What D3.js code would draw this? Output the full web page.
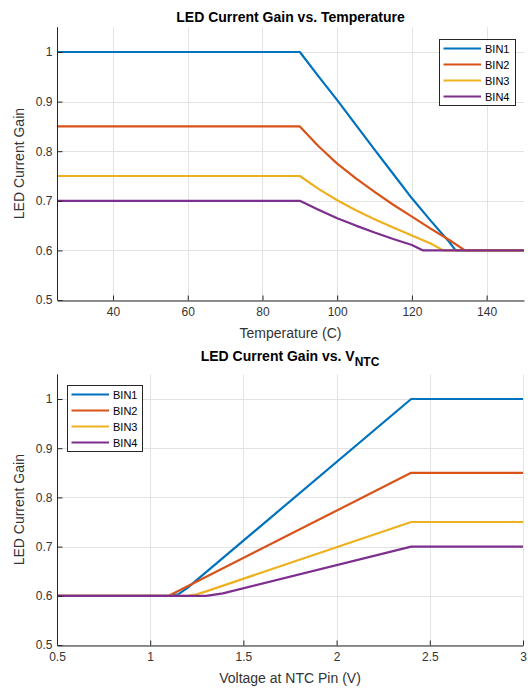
<!DOCTYPE html>
<html>
<head>
<meta charset="utf-8">
<script src="https://cdn.jsdelivr.net/npm/d3@7"></script>
<style>
  html, body { margin: 0; padding: 0; background: #fff; }
  svg { display: block; font-family: "Liberation Sans", Arial, Helvetica, sans-serif; }
</style>
</head>
<body>
<svg id="chart" width="528" height="689"></svg>
<script>
// ---------- DATA ----------
const seriesNames = ["BIN1", "BIN2", "BIN3", "BIN4"];
const seriesColors = ["#0072BD", "#D95319", "#EDB120", "#7E2F8E"];

// Chart 1: gain vs temperature (°C, gain)
const tempBIN1 = [[25,1],[90,1],[95,0.951],[100,0.903],[105,0.853],[110,0.803],[115,0.754],[120,0.705],[125,0.66],[130,0.617],[131.7,0.6],[150,0.6]];
const tempBIN2 = [[25,0.85],[90,0.85],[95,0.81],[100,0.775],[105,0.745],[110,0.718],[115,0.692],[120,0.668],[125,0.644],[130,0.621],[134.2,0.6],[150,0.6]];
const tempBIN3 = [[25,0.75],[90,0.75],[95,0.724],[100,0.701],[105,0.681],[110,0.663],[115,0.646],[120,0.63],[125,0.614],[128.4,0.6],[150,0.6]];
const tempBIN4 = [[25,0.7],[90,0.7],[95,0.682],[100,0.665],[105,0.65],[110,0.636],[115,0.623],[120,0.611],[123,0.6],[150,0.6]];
const tempTicks = [40, 60, 80, 100, 120, 140];

// Chart 2: gain vs V_NTC (V, gain)
const vBIN1 = [[0.5,0.6],[1.1,0.6],[1.15,0.603],[1.2,0.616],[2.4,1.0],[3,1.0]];
const vBIN2 = [[0.5,0.6],[1.1,0.6],[2.4,0.85],[3,0.85]];
const vBIN3 = [[0.5,0.6],[1.2,0.6],[1.25,0.603],[1.3,0.609],[2.4,0.75],[3,0.75]];
const vBIN4 = [[0.5,0.6],[1.3,0.6],[1.39,0.605],[2.4,0.7],[3,0.7]];
const vTicks = [0.5, 1, 1.5, 2, 2.5, 3];
const vTickLabels = ["0.5", "1", "1.5", "2", "2.5", "3"];

const gainTicks = [0.5, 0.6, 0.7, 0.8, 0.9, 1];
const gainTickLabels = ["0.5", "0.6", "0.7", "0.8", "0.9", "1"];

// ---------- DRAW ----------
const svg = d3.select("#chart");
const axisColor = "#262626";
const gridColor = "#e3e3e3";

function drawPanel(opt) {
  const x = d3.scaleLinear().domain(opt.xDomain).range([opt.left, opt.right]);
  const y = d3.scaleLinear().domain([0.5, 1.05]).range([opt.bottom, opt.top]);
  const g = svg.append("g");

  // grid
  g.append("g").selectAll("line.gx").data(opt.xTicks).join("line")
    .attr("x1", d => Math.round(x(d)) + 0.5).attr("x2", d => Math.round(x(d)) + 0.5)
    .attr("y1", opt.top).attr("y2", opt.bottom)
    .attr("stroke", gridColor).attr("stroke-width", 1);
  g.append("g").selectAll("line.gy").data(gainTicks).join("line")
    .attr("y1", d => Math.round(y(d)) + 0.5).attr("y2", d => Math.round(y(d)) + 0.5)
    .attr("x1", opt.left).attr("x2", opt.right)
    .attr("stroke", gridColor).attr("stroke-width", 1);

  // lines
  const line = d3.line().x(d => x(d[0])).y(d => y(d[1]));
  opt.series.forEach((s, i) => {
    g.append("path").datum(s).attr("d", line)
      .attr("fill", "none").attr("stroke", seriesColors[i])
      .attr("stroke-width", 2.2).attr("stroke-linejoin", "round");
  });

  // axes
  const xAxis = d3.axisBottom(x).tickValues(opt.xTicks)
    .tickFormat((d, i) => opt.xTickLabels ? opt.xTickLabels[i] : String(d))
    .tickSizeInner(-5).tickSizeOuter(0).tickPadding(7);
  const gx = g.append("g").attr("transform", `translate(0,${Math.round(opt.bottom) + 0.5})`).call(xAxis);
  const yAxis = d3.axisLeft(y).tickValues(gainTicks)
    .tickFormat((d, i) => gainTickLabels[i])
    .tickSizeInner(-5).tickSizeOuter(0).tickPadding(5);
  const gy = g.append("g").attr("transform", `translate(${Math.round(opt.left) + 0.5},0)`).call(yAxis);
  [gx, gy].forEach(a => {
    a.select(".domain").attr("stroke", axisColor);
    a.selectAll(".tick line").attr("stroke", axisColor);
    a.selectAll(".tick text").attr("fill", "#333").style("font-size", "12px")
      .style("font-family", "'Liberation Sans', Arial, sans-serif");
  });
  gy.select(".domain").attr("d", `M0,${opt.top}V${Math.round(opt.bottom)}`);

  // title
  const t = g.append("text").attr("x", (opt.left + opt.right) / 2).attr("y", opt.titleY)
    .attr("text-anchor", "middle").attr("font-weight", "bold")
    .attr("font-size", "14px").attr("fill", "#000");
  t.append("tspan").text(opt.title);
  if (opt.titleSub) {
    t.append("tspan").attr("dy", 5).attr("font-size", "12px").text(opt.titleSub);
  }

  // axis labels
  g.append("text").attr("x", (opt.left + opt.right) / 2).attr("y", opt.xLabelY)
    .attr("text-anchor", "middle").attr("font-size", "14px").attr("fill", "#333")
    .text(opt.xLabel);
  g.append("text").attr("transform", `translate(${opt.yLabelX},${(opt.top + opt.bottom) / 2}) rotate(-90)`)
    .attr("text-anchor", "middle").attr("font-size", "14px").attr("fill", "#333")
    .text("LED Current Gain");

  // legend
  const lg = g.append("g");
  lg.append("rect").attr("x", opt.legend.x + 0.5).attr("y", opt.legend.y + 0.5)
    .attr("width", opt.legend.w).attr("height", opt.legend.h)
    .attr("fill", "#fff").attr("stroke", axisColor).attr("stroke-width", 1);
  seriesNames.forEach((name, i) => {
    const cy = opt.legend.y + 9.5 + i * 16;
    lg.append("line").attr("x1", opt.legend.x + 4.5).attr("x2", opt.legend.x + 42)
      .attr("y1", cy).attr("y2", cy).attr("stroke", seriesColors[i]).attr("stroke-width", 2.2);
    lg.append("text").attr("x", opt.legend.x + 46).attr("y", cy + 4)
      .attr("font-size", "11px").attr("fill", "#000").text(name);
  });
}

drawPanel({
  xDomain: [25, 150], left: 57, right: 524, top: 27.2, bottom: 300,
  xTicks: tempTicks, series: [tempBIN1, tempBIN2, tempBIN3, tempBIN4],
  title: "LED Current Gain vs. Temperature", titleY: 22,
  xLabel: "Temperature (C)", xLabelY: 338, yLabelX: 24,
  legend: { x: 439, y: 39, w: 76, h: 66 }
});

drawPanel({
  xDomain: [0.5, 3], left: 57, right: 523, top: 374.4, bottom: 645,
  xTicks: vTicks, xTickLabels: vTickLabels, series: [vBIN1, vBIN2, vBIN3, vBIN4],
  title: "LED Current Gain vs. V", titleSub: "NTC", titleY: 361,
  xLabel: "Voltage at NTC Pin (V)", xLabelY: 683, yLabelX: 24,
  legend: { x: 67, y: 385, w: 75, h: 66 }
});
</script>
</body>
</html>
